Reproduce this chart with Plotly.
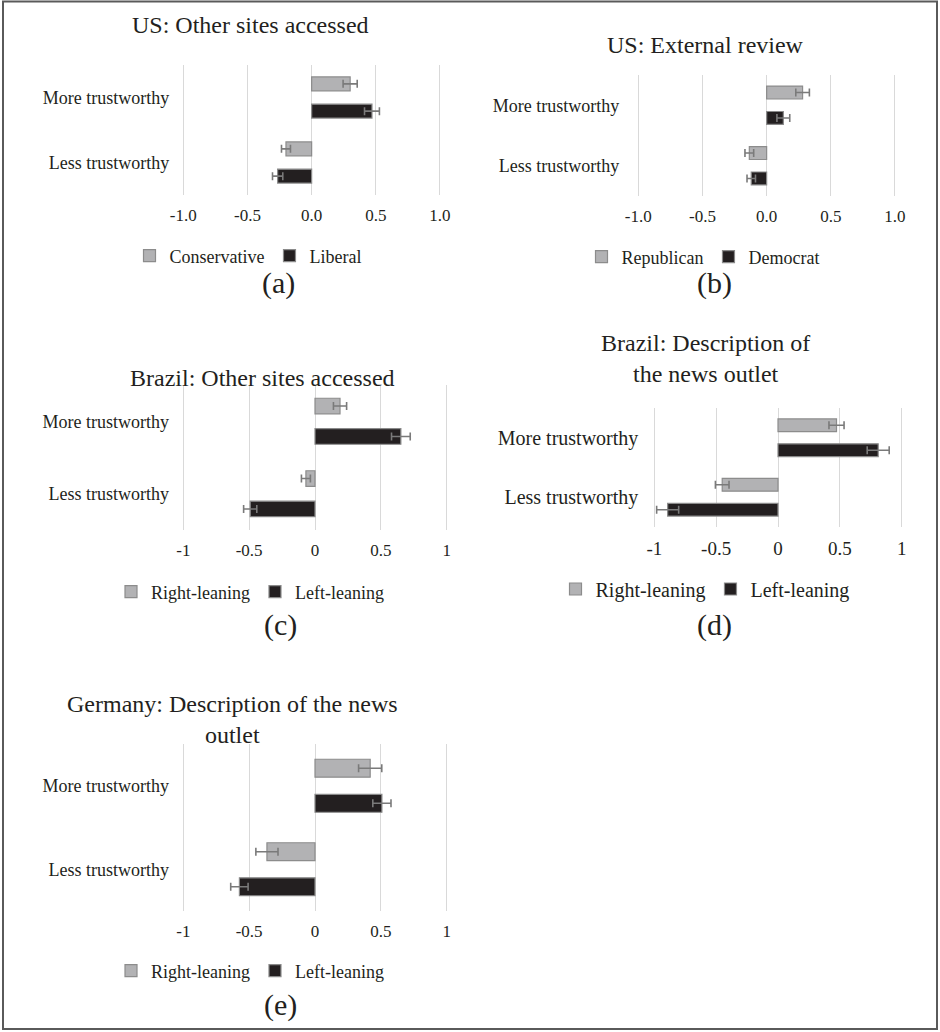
import plotly.graph_objects as go

W, H = 940, 1032
FONT = "Liberation Serif"
TXT = "#231f20"

categories = ["More trustworthy", "Less trustworthy"]

# Panel (a) US: Other sites accessed
a_names = ["Conservative", "Liberal"]
a_conservative = [0.30, -0.20]
a_conservative_err = [0.055, 0.035]
a_liberal = [0.47, -0.265]
a_liberal_err = [0.058, 0.040]

# Panel (b) US: External review
b_names = ["Republican", "Democrat"]
b_republican = [0.28, -0.135]
b_republican_err = [0.053, 0.034]
b_democrat = [0.13, -0.12]
b_democrat_err = [0.050, 0.033]

# Panel (c) Brazil: Other sites accessed
c_names = ["Right-leaning", "Left-leaning"]
c_right = [0.19, -0.069]
c_right_err = [0.050, 0.034]
c_left = [0.652, -0.492]
c_left_err = [0.071, 0.050]

# Panel (d) Brazil: Description of the news outlet
d_names = ["Right-leaning", "Left-leaning"]
d_right = [0.473, -0.451]
d_right_err = [0.061, 0.055]
d_left = [0.81, -0.892]
d_left_err = [0.089, 0.089]

# Panel (e) Germany: Description of the news outlet
e_names = ["Right-leaning", "Left-leaning"]
e_right = [0.419, -0.365]
e_right_err = [0.088, 0.084]
e_left = [0.508, -0.574]
e_left_err = [0.069, 0.066]

tickvals = [-1, -0.5, 0, 0.5, 1]
ticktext_us = ["-1.0", "-0.5", "0.0", "0.5", "1.0"]
ticktext_br = ["-1", "-0.5", "0", "0.5", "1"]

GRAY_FILL, GRAY_LINE = "#b2b2b4", "#8c8c8c"
BLACK_FILL, BLACK_LINE = "#231f20", "#8a8a8a"
ERR = "#7a7a7a"

PAD = 0.04  # extra axis range beyond +-1 so the edge gridlines are drawn

fig = go.Figure()

def px_x(x):
    return x / W

def px_y(y):
    return 1 - y / H

panels = [
    dict(names=a_names, s1=(a_conservative, a_conservative_err), s2=(a_liberal, a_liberal_err),
         xd=(183.3, 440), yd=(65, 195), tt=ticktext_us, fs=18, tfs=17,
         title="US: Other sites accessed", tpos=(250, 25), lpos=(248, 256), lab="(a)", labpos=(278, 283), lfs=18, ystand=13),
    dict(names=b_names, s1=(b_republican, b_republican_err), s2=(b_democrat, b_democrat_err),
         xd=(638.3, 895), yd=(75, 196), tt=ticktext_us, fs=18, tfs=17,
         title="US: External review", tpos=(705, 45), lpos=(703, 257), lab="(b)", labpos=(714, 283), lfs=18, ystand=18),
    dict(names=c_names, s1=(c_right, c_right_err), s2=(c_left, c_left_err),
         xd=(183.3, 446.7), yd=(385, 530), tt=ticktext_br, fs=18, tfs=17,
         title="Brazil: Other sites accessed", tpos=(262, 378), lpos=(250, 592), lab="(c)", labpos=(280, 625), lfs=18, ystand=13),
    dict(names=d_names, s1=(d_right, d_right_err), s2=(d_left, d_left_err),
         xd=(654.3, 901.7), yd=(408, 527), tt=ticktext_br, fs=20, tfs=19,
         title="Brazil: Description of<br>the news outlet", tpos=(705, 359), lpos=(705, 589), lab="(d)", labpos=(714, 625), lfs=20, ystand=15),
    dict(names=e_names, s1=(e_right, e_right_err), s2=(e_left, e_left_err),
         xd=(183.3, 446.7), yd=(744, 911), tt=ticktext_br, fs=18, tfs=17,
         title="Germany: Description of the news<br>outlet", tpos=(232, 719), lpos=(250, 971), lab="(e)", labpos=(280, 1005), lfs=18, ystand=13),
]

annotations = []
layout_axes = {}
for i, p in enumerate(panels, start=1):
    sfx = "" if i == 1 else str(i)
    xa, ya = "x" + sfx, "y" + sfx
    leg = "legend" + sfx
    for (vals, errs), name, fill, line in [
        (p["s1"], p["names"][0], GRAY_FILL, GRAY_LINE),
        (p["s2"], p["names"][1], BLACK_FILL, BLACK_LINE),
    ]:
        fig.add_trace(go.Bar(
            x=vals, y=categories, orientation="h", name=name,
            marker=dict(color=fill, line=dict(color=line, width=1.2)),
            error_x=dict(type="data", array=errs, visible=True, color=ERR, thickness=1.6, width=4),
            xaxis=xa, yaxis=ya, legend=leg, showlegend=True,
        ))
    x0, x1 = p["xd"]
    half = (x1 - x0) / 2.0
    layout_axes["xaxis" + sfx] = dict(
        domain=[px_x(x0 - half * PAD), px_x(x1 + half * PAD)], anchor=ya, automargin=False,
        range=[-1 - PAD, 1 + PAD], tickvals=tickvals, ticktext=p["tt"],
        showgrid=True, gridcolor="#d9d9d9", gridwidth=1.3,
        zeroline=True, zerolinecolor="#d9d9d9", zerolinewidth=1.3,
        showline=False, ticks="", ticklabelstandoff=8,
        tickfont=dict(family=FONT, size=p["tfs"], color=TXT), fixedrange=True,
    )
    layout_axes["yaxis" + sfx] = dict(
        domain=[px_y(p["yd"][1]), px_y(p["yd"][0])], anchor=xa, automargin=False,
        categoryorder="array", categoryarray=categories, autorange="reversed",
        showgrid=False, zeroline=False, showline=False, ticks="",
        ticklabelstandoff=int(round(p["ystand"] - half * PAD)),
        tickfont=dict(family=FONT, size=p["fs"], color=TXT), fixedrange=True,
    )
    layout_axes[leg] = dict(
        orientation="h", x=px_x(p["lpos"][0]), y=px_y(p["lpos"][1]),
        xanchor="center", yanchor="middle", itemwidth=30,
        font=dict(family=FONT, size=p["lfs"], color=TXT),
        bgcolor="rgba(0,0,0,0)", traceorder="normal",
    )
    annotations.append(dict(
        text=p["title"], x=px_x(p["tpos"][0]), y=px_y(p["tpos"][1]),
        xref="paper", yref="paper", xanchor="center", yanchor="middle",
        showarrow=False, font=dict(family=FONT, size=24, color=TXT),
    ))
    annotations.append(dict(
        text=p["lab"], x=px_x(p["labpos"][0]), y=px_y(p["labpos"][1]),
        xref="paper", yref="paper", xanchor="center", yanchor="middle",
        showarrow=False, font=dict(family=FONT, size=30, color=TXT),
    ))

fig.update_layout(
    width=W, height=H, autosize=False, margin=dict(l=0, r=0, t=0, b=0, autoexpand=False),
    paper_bgcolor="white", plot_bgcolor="white",
    barmode="group", bargap=0.16, bargroupgap=0.49,
    annotations=annotations,
    shapes=[dict(type="rect", xref="paper", yref="paper",
                 x0=px_x(3), x1=px_x(937), y0=px_y(1029), y1=px_y(1.5),
                 line=dict(color="#5a5a5a", width=2))],
    **layout_axes,
)

fig.write_html(
    "out.html",
    config={"displayModeBar": False, "responsive": False},
    post_script="document.body.style.margin='0';document.body.style.overflow='hidden';",
)
